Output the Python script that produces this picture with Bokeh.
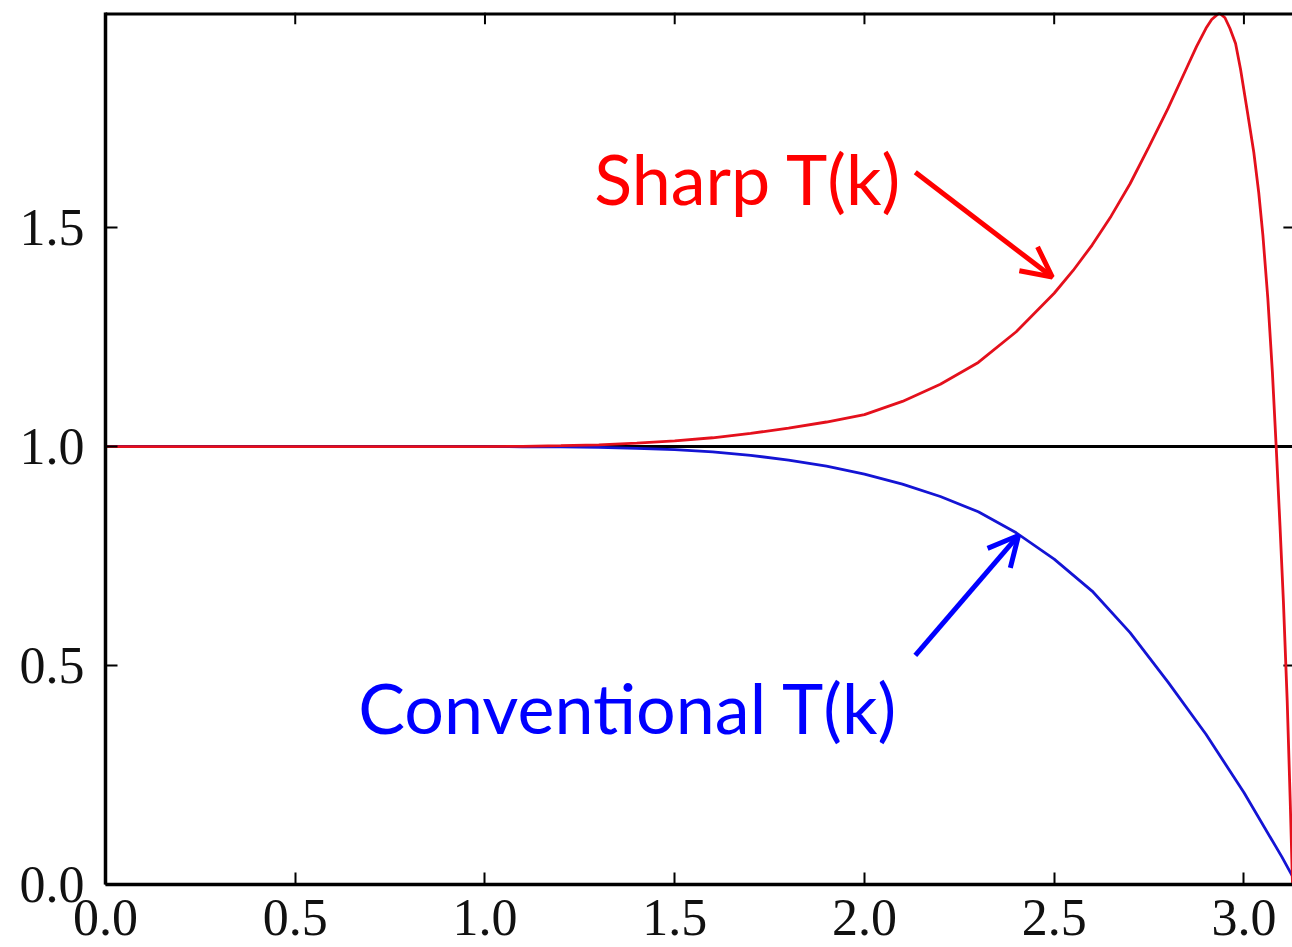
from bokeh.plotting import figure
from bokeh.models import (Range1d, FixedTicker, Span, Arrow, OpenHead,
                          ColumnDataSource)
from bokeh.core.properties import value
from bokeh.embed import file_html
from bokeh.resources import INLINE

# ---- data ----
k_conv = [0.0, 0.5, 1.0, 1.1, 1.2, 1.3, 1.4, 1.5, 1.6, 1.7, 1.8, 1.9, 2.0,
          2.1, 2.2, 2.3, 2.4, 2.5, 2.6, 2.7, 2.8, 2.9, 3.0, 3.1, 3.14]
t_conv = [1.0, 1.0, 1.0, 0.9995, 0.999, 0.998, 0.996, 0.993, 0.988, 0.980,
          0.969, 0.955, 0.937, 0.914, 0.886, 0.851, 0.803, 0.743, 0.670,
          0.575, 0.462, 0.343, 0.210, 0.063, 0.0]

k_sharp = [0.0, 0.5, 1.0, 1.1, 1.2, 1.3, 1.4, 1.5, 1.6, 1.7, 1.8, 1.9, 2.0,
           2.1, 2.2, 2.3, 2.4, 2.5, 2.55, 2.6, 2.65, 2.7, 2.75, 2.8, 2.85,
           2.875, 2.9, 2.915, 2.935, 2.95, 2.963, 2.978, 2.991, 3.010, 3.026,
           3.039, 3.050, 3.063, 3.075, 3.085, 3.095, 3.104, 3.114, 3.122,
           3.128]
t_sharp = [1.0, 1.0, 1.0, 1.0005, 1.002, 1.004, 1.008, 1.013, 1.020, 1.030,
           1.042, 1.056, 1.073, 1.103, 1.142, 1.192, 1.262, 1.350, 1.402,
           1.460, 1.526, 1.600, 1.685, 1.772, 1.866, 1.913, 1.955, 1.975,
           1.990, 1.979, 1.955, 1.920, 1.862, 1.760, 1.672, 1.580, 1.482,
           1.338, 1.170, 1.0, 0.820, 0.647, 0.420, 0.191, 0.0]

x_ticks = [0.0, 0.5, 1.0, 1.5, 2.0, 2.5, 3.0]
x_tick_labels = ["0.0", "0.5", "1.0", "1.5", "2.0", "2.5", "3.0"]
y_ticks = [0.0, 0.5, 1.0, 1.5]
y_tick_labels = ["0.0", "0.5", "1.0", "1.5"]

ref_level = 1.0

labels = ["Sharp T(k)", "Conventional T(k)"]
label_colors = ["#ff0000", "#0000ff"]

# annotation placement (data coordinates)
label_x = [1.288, 0.666]
label_y = [1.614, 0.406]
arrow_x0 = [2.134, 2.134]
arrow_y0 = [1.626, 0.523]
arrow_x1 = [2.495, 2.406]
arrow_y1 = [1.387, 0.797]

X_MAX = 3.128
Y_MAX = 1.991
TOP_TICK_LEN = 0.027   # ~12 px in data units
RIGHT_TICK_LEN = 0.024  # ~9 px in data units

p = figure(width=1292, height=947, output_backend="svg", toolbar_location=None,
           x_range=Range1d(0, X_MAX), y_range=Range1d(0, Y_MAX),
           min_border_left=105, min_border_right=0, min_border_top=12,
           min_border_bottom=63, background_fill_color="white",
           border_fill_color="white", outline_line_color=None)
p.xgrid.visible = False
p.ygrid.visible = False

TICK_FONT = "Liberation Serif"


def style_axis(ax, ticks, tick_labels):
    ax.ticker = FixedTicker(ticks=ticks)
    ax.major_label_overrides = {t: l for t, l in zip(ticks, tick_labels)}
    ax.major_tick_in = 12
    ax.major_tick_out = 0
    ax.major_tick_line_width = 2
    ax.major_tick_line_color = "black"
    ax.minor_tick_line_color = None
    ax.axis_line_width = 3.5
    ax.axis_line_color = "black"
    ax.major_label_text_font = TICK_FONT
    ax.major_label_text_color = "#111111"
    ax.major_label_text_font_size = "52px"


style_axis(p.xaxis[0], x_ticks, x_tick_labels)
p.xaxis[0].major_label_standoff = 15
style_axis(p.yaxis[0], y_ticks, y_tick_labels)
p.yaxis[0].major_label_standoff = 21

# top spine and top/right inner ticks
p.add_layout(Span(location=Y_MAX, dimension="width", line_color="black",
                  line_width=6))
p.segment(x0=x_ticks, y0=[Y_MAX] * len(x_ticks), x1=x_ticks,
          y1=[Y_MAX - TOP_TICK_LEN] * len(x_ticks), line_color="black",
          line_width=2)
p.segment(x0=[X_MAX - RIGHT_TICK_LEN] * len(y_ticks), y0=y_ticks,
          x1=[X_MAX] * len(y_ticks), y1=y_ticks, line_color="black",
          line_width=2)

# reference line at 1.0 (drawn beneath the curves)
p.add_layout(Span(location=ref_level, dimension="width", line_color="black",
                  line_width=3, level="underlay"))

# curves
p.line(k_conv, t_conv, line_color="#1414d4", line_width=2.8)
p.line(k_sharp, t_sharp, line_color="#e4101c", line_width=2.8)

# labels
src = ColumnDataSource(dict(x=label_x, y=label_y, text=labels, color=label_colors))
p.text(x="x", y="y", text="text", text_color="color", source=src,
       text_font=value("Lato"), text_font_size="70px",
       text_baseline="alphabetic", text_align="left")

# arrows
for i in range(2):
    c = label_colors[i]
    p.add_layout(Arrow(end=OpenHead(size=30, line_color=c, line_width=5),
                       x_start=arrow_x0[i], y_start=arrow_y0[i],
                       x_end=arrow_x1[i], y_end=arrow_y1[i],
                       line_color=c, line_width=5))

open("out.html", "w").write(file_html(p, INLINE))
